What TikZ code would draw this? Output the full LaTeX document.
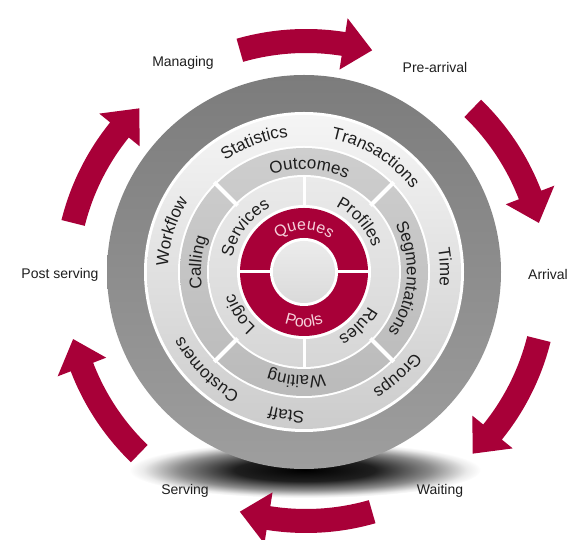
\documentclass[tikz,border=0pt]{standalone}
\usepackage{fontspec}
\setmainfont{Liberation Sans}
\usetikzlibrary{decorations.text}

\definecolor{crimson}{RGB}{168,0,56}
\definecolor{ink}{RGB}{30,30,30}
\definecolor{pinkink}{RGB}{246,208,218}

% soft, flat shadow profile under the disc (edge of the shaded ellipse at 25bp)
\pgfdeclareradialshading{discshadow}{\pgfpoint{0bp}{0bp}}{%
  color(0bp)=(black); color(10bp)=(black!88); color(18bp)=(black!45);
  color(23bp)=(black!8); color(25bp)=(white); color(50bp)=(white)}

% fonts for the ring words and the outside labels
\newcommand\rimfont{\fontsize{17}{17}\selectfont}
\newcommand\corefont{\fontsize{16}{16}\selectfont}
\newcommand\stagefont{\fontsize{14}{14}\selectfont}

% a word set along a circular arc around the ring centre
% #1 start angle, #2 end angle, #3 baseline radius, #4 font, #5 colour, #6 word
\newcommand\ringword[6]{%
  \path[decorate, decoration={text along path, text align=center,
      text color=#5, text={|#4|#6}}]
    (#1:#3) arc[start angle=#1, end angle=#2, radius=#3];}

% a thick curved arrow running clockwise around the cycle centre
% #1 middle angle of the arrow
\newcommand\cyclearrow[1]{%
  \fill[crimson]
    ({#1+16}:252) arc[start angle={#1+16}, end angle={#1-9}, radius=252]
    -- ({#1-9}:266) -- ({#1-16}:240) -- ({#1-9}:214) -- ({#1-9}:228)
    arc[start angle={#1-9}, end angle={#1+16}, radius=228] -- cycle;}

\tikzset{
  stage/.style={font=\stagefont, text=ink, inner sep=1pt},
}

\begin{document}
\begin{tikzpicture}[x=1pt,y=1pt]
\useasboundingbox (0,0) rectangle (581,540);

% soft shadow under the disc
\shade[shading=discshadow] (305,70) ellipse (176 and 28);

% the six cycle arrows
\begin{scope}[shift={(306,259)}]
  \foreach \m in {90,30,-30,-90,-150,150} { \cyclearrow{\m} }
\end{scope}

% stage labels between the arrows
\node[stage] (managing)   at (183,477) {Managing};
\node[stage] (prearrival) at (435,472) {Pre-arrival};
\node[stage] (arrival)    at (548,265) {Arrival};
\node[stage] (waitingst)  at (440,49)  {Waiting};
\node[stage] (serving)    at (185,49)  {Serving};
\node[stage] (postserv)   at (60,265)  {Post serving};

\begin{scope}[shift={(304,268)}]
  % outer dark band
  \shade[top color={rgb,255:red,124;green,124;blue,124},
         middle color={rgb,255:red,130;green,130;blue,130},
         bottom color={rgb,255:red,158;green,158;blue,158}] (0,0) circle (197);
  \fill[white] (0,0) circle (160);
  % outer light ring
  \shade[top color={rgb,255:red,245;green,245;blue,245},
         middle color={rgb,255:red,230;green,230;blue,230},
         bottom color={rgb,255:red,204;green,204;blue,204}] (0,0) circle (157);
  \fill[white] (0,0) circle (126);
  % middle grey ring, four segments
  \shade[top color={rgb,255:red,206;green,206;blue,206},
         bottom color={rgb,255:red,186;green,186;blue,186}] (0,0) circle (124);
  \fill[white] (0,0) circle (97);
  % inner light ring
  \shade[top color={rgb,255:red,234;green,234;blue,234},
         bottom color={rgb,255:red,214;green,214;blue,214}] (0,0) circle (95);
  \foreach \a in {45,135,225,315} \draw[white, line width=4] (\a:94) -- (\a:127);
  \foreach \a in {90,270} \draw[white, line width=3] (\a:64) -- (\a:97);
  % red core ring
  \fill[white] (0,0) circle (67);
  \fill[crimson] (0,0) circle (64);
  \draw[white, line width=3] (-65,0) -- (65,0);
  \fill[white] (0,0) circle (34);
  \shade[top color={rgb,255:red,236;green,236;blue,236},
         bottom color={rgb,255:red,218;green,218;blue,218}] (0,0) circle (31);

  % words of the outer light ring
  \ringword{151}{71}{136}{\rimfont}{ink}{Statistics}
  \ringword{103}{13}{136}{\rimfont}{ink}{Transactions}
  \ringword{32}{-28}{136}{\rimfont}{ink}{Time}
  \ringword{-18}{-78}{136}{\rimfont}{ink}{Groups}
  \ringword{-67}{-127}{139}{\rimfont}{ink}{Staff}
  \ringword{270}{180}{137}{\rimfont}{ink}{Customers}
  \ringword{208}{118}{136}{\rimfont}{ink}{Workflow}

  % words of the middle ring
  \ringword{132}{42}{103}{\rimfont}{ink}{Outcomes}
  \ringword{45}{-53}{103}{\rimfont}{ink}{Segmentations}
  \ringword{-49}{-139}{104}{\rimfont}{ink}{Waiting}
  \ringword{220}{130}{103}{\rimfont}{ink}{Calling}

  % words of the inner light ring
  \ringword{193}{93}{73}{\rimfont}{ink}{Services}
  \ringword{92}{-8}{73}{\rimfont}{ink}{Profiles}
  \ringword{263}{163}{73}{\rimfont}{ink}{Logic}
  \ringword{5}{-95}{73}{\rimfont}{ink}{Rules}

  % words of the red core
  \ringword{140}{40}{42}{\corefont}{pinkink}{Queues}
  \ringword{220}{320}{55}{\corefont}{pinkink}{Pools}
\end{scope}
\end{tikzpicture}
\end{document}
